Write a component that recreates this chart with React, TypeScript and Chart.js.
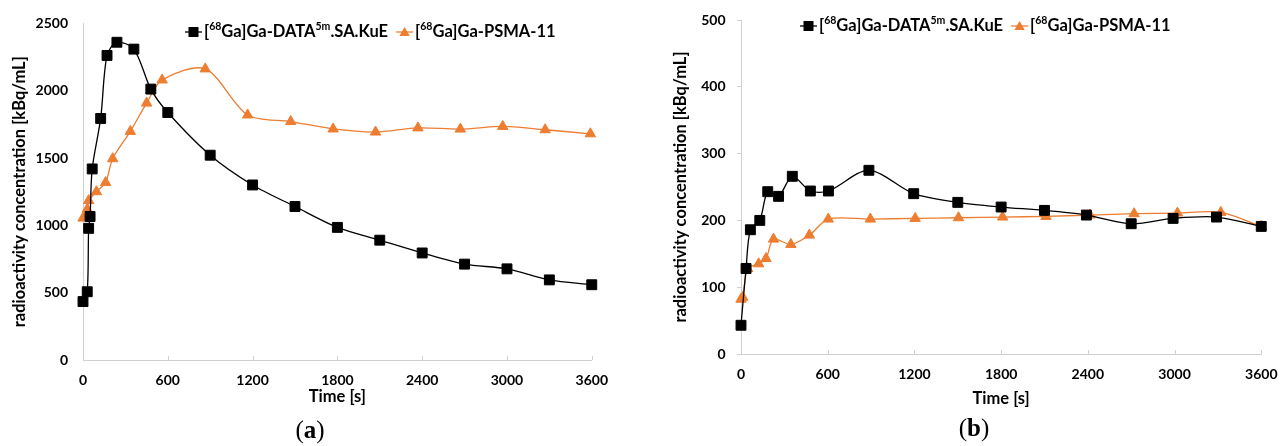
import React, { useEffect, useRef } from "react";
import { Chart, registerables } from "chart.js";
Chart.register(...registerables);

const BLACK = "#000000";
const ORANGE = "#ED7D31";
const AXIS = "#d0d0d0";
const FONT = "Lato, 'Noto Sans', sans-serif";

// Panel (a)
const timeA_DATA = [0, 30, 40, 50, 65, 125, 170, 240, 360, 480, 600, 900, 1200, 1500, 1800, 2100, 2400, 2700, 3000, 3300, 3600];
const concA_DATA = [434, 507, 978, 1066, 1419, 1794, 2262, 2360, 2309, 2012, 1838, 1521, 1300, 1140, 985, 890, 795, 712, 677, 595, 559];
const timeA_PSMA = [0, 30, 40, 95, 160, 210, 335, 450, 560, 865, 1165, 1470, 1770, 2070, 2370, 2670, 2970, 3270, 3590];
const concA_PSMA = [1054, 1120, 1184, 1250, 1318, 1495, 1698, 1908, 2080, 2162, 1820, 1771, 1716, 1693, 1724, 1715, 1735, 1710, 1680];

// Panel (b)
const timeB_DATA = [0, 35, 65, 130, 185, 260, 355, 480, 605, 885, 1195, 1500, 1800, 2100, 2390, 2700, 2990, 3290, 3600];
const concB_DATA = [43, 128, 186, 200, 243, 236, 266, 244, 244, 275, 240, 227, 220, 215, 208, 195, 203, 205, 191];
const timeB_PSMA = [0, 12, 46, 122, 173, 225, 345, 473, 604, 895, 1205, 1505, 1810, 2110, 2415, 2720, 3020, 3320, 3600];
const concB_PSMA = [82, 85, 128, 135, 143, 172, 164, 178, 202, 202, 203, 204, 205, 206, 208, 210, 211, 212, 191];

const xTickValues = [0, 600, 1200, 1800, 2400, 3000, 3600];
const yTicksA = [0, 500, 1000, 1500, 2000, 2500];
const yTicksB = [0, 100, 200, 300, 400, 500];

const xTitle = "Time [s]";
const yTitle = "radioactivity concentration [kBq/mL]";
// label segments: [text, isSuperscript]
const labelDATA: [string, boolean][] = [["[", false], ["68", true], ["Ga]Ga-DATA", false], ["5m", true], [".SA.KuE", false]];
const labelPSMA: [string, boolean][] = [["[", false], ["68", true], ["Ga]Ga-PSMA-11", false]];

const H = 446;
const TICK_SIZE = 14;
const TITLE_SIZE = 16.5;
const LEGEND_SIZE = 16.5;
const SUP_SIZE = 10.5;

function toPoints(xs: number[], ys: number[]) {
  return xs.map((x, i) => ({ x, y: ys[i] }));
}

const legendPlugin = {
  id: "excelLegend",
  afterDraw(chart: any, _args: any, opts: any) {
    const ctx = chart.ctx;
    let x = opts.x;
    const y = opts.y;
    for (const item of opts.items) {
      ctx.save();
      ctx.strokeStyle = item.color;
      ctx.fillStyle = item.color;
      ctx.lineWidth = 1.3;
      ctx.beginPath();
      ctx.moveTo(x, y);
      ctx.lineTo(x + 17, y);
      ctx.stroke();
      const mx = x + 8.5;
      ctx.beginPath();
      if (item.marker === "rect") {
        ctx.rect(mx - 5, y - 5, 10, 10);
      } else {
        const r = 6;
        ctx.moveTo(mx, y - r + 1);
        ctx.lineTo(mx + 0.866 * r, y + r / 2 + 1);
        ctx.lineTo(mx - 0.866 * r, y + r / 2 + 1);
        ctx.closePath();
      }
      ctx.fill();
      let tx = x + 19;
      ctx.fillStyle = "#000";
      ctx.textBaseline = "middle";
      ctx.textAlign = "left";
      for (const [txt, sup] of item.segments) {
        ctx.font = sup ? `bold ${SUP_SIZE}px ${FONT}` : `bold ${LEGEND_SIZE}px ${FONT}`;
        ctx.fillText(txt, tx, sup ? y - 5 : y);
        tx += ctx.measureText(txt).width;
      }
      ctx.restore();
      x = tx + 8;
    }
  },
};

const innerTicksPlugin = {
  id: "innerTicks",
  beforeDatasetsDraw(chart: any) {
    const ctx = chart.ctx;
    const xs = chart.scales.x;
    const bottom = chart.chartArea.bottom;
    ctx.save();
    ctx.strokeStyle = AXIS;
    ctx.lineWidth = 1;
    for (const v of xTickValues) {
      if (v === 0) continue;
      const px = Math.round(xs.getPixelForValue(v)) + 0.5;
      ctx.beginPath();
      ctx.moveTo(px, bottom);
      ctx.lineTo(px, bottom - 4);
      ctx.stroke();
    }
    ctx.restore();
  },
};

interface PanelCfg {
  canvasLeft: number;
  canvasWidth: number;
  area: { left: number; right: number; top: number; bottom: number };
  yMax: number;
  yTicks: number[];
  yTitleCenter: number;
  yTickLen: number;
  yPad: number;
  xLabelPad: number;
  xTitleCenter: number;
  legendX: number;
  legendY: number;
  data: { xs: number[]; ys: number[]; color: string; marker: string; radius: number; label: [string, boolean][] }[];
}

const tickFont = { family: FONT, size: TICK_SIZE, weight: "bold" as const };
const titleFont = { family: FONT, size: TITLE_SIZE, weight: "bold" as const };

function buildConfig(cfg: PanelCfg): any {
  const lh = TITLE_SIZE * 1.2;
  const xAxisH = cfg.xTitleCenter + lh / 2 - cfg.area.bottom;
  const yWidth = cfg.area.left - cfg.canvasLeft;
  return {
    type: "line",
    data: {
      datasets: cfg.data.map((d) => ({
        data: toPoints(d.xs, d.ys),
        borderColor: d.color,
        backgroundColor: d.color,
        pointBackgroundColor: d.color,
        pointBorderColor: d.color,
        pointStyle: d.marker,
        pointRadius: d.radius,
        pointBorderWidth: 1,
        borderWidth: 1.3,
        tension: 0.3,
        clip: false,
        fill: false,
      })),
    },
    options: {
      animation: false,
      responsive: false,
      devicePixelRatio: 1,
      layout: {
        padding: {
          left: 0,
          top: cfg.area.top,
          right: cfg.canvasLeft + cfg.canvasWidth - cfg.area.right,
          bottom: H - cfg.area.bottom - xAxisH,
        },
      },
      scales: {
        x: {
          type: "linear",
          min: 0,
          max: 3600,
          afterBuildTicks: (s: any) => {
            s.ticks = xTickValues.map((v) => ({ value: v }));
          },
          afterFit: (s: any) => {
            s.height = xAxisH;
          },
          ticks: {
            callback: (v: any) => String(v),
            font: tickFont,
            color: "#000",
            padding: cfg.xLabelPad,
            maxRotation: 0,
            autoSkip: false,
          },
          grid: { display: true, drawOnChartArea: false, drawTicks: false, color: AXIS },
          border: { display: true, color: AXIS, width: 1 },
          title: { display: true, text: xTitle, font: titleFont, color: "#000", padding: { top: 0, bottom: 0 } },
        },
        y: {
          min: 0,
          max: cfg.yMax,
          afterBuildTicks: (s: any) => {
            s.ticks = cfg.yTicks.map((v) => ({ value: v }));
          },
          afterFit: (s: any) => {
            s.width = yWidth;
          },
          ticks: {
            callback: (v: any) => String(v),
            font: tickFont,
            color: "#000",
            padding: cfg.yPad,
          },
          grid: {
            display: true,
            drawOnChartArea: false,
            drawTicks: cfg.yTickLen > 0,
            tickLength: cfg.yTickLen,
            color: AXIS,
          },
          border: { display: true, color: AXIS, width: 1 },
          title: {
            display: true,
            text: yTitle,
            font: titleFont,
            color: "#000",
            padding: { top: cfg.yTitleCenter - cfg.canvasLeft - lh / 2, bottom: 0 },
          },
        },
      },
      plugins: {
        legend: { display: false },
        tooltip: { enabled: false },
        excelLegend: {
          x: cfg.legendX,
          y: cfg.legendY,
          items: cfg.data.map((d) => ({ color: d.color, marker: d.marker, segments: d.label })),
        },
      },
    },
    plugins: [innerTicksPlugin, legendPlugin],
  };
}

const panelA: PanelCfg = {
  canvasLeft: 0,
  canvasWidth: 620,
  area: { left: 83, right: 595, top: 20, bottom: 360 },
  yMax: 2500,
  yTicks: yTicksA,
  yTitleCenter: 20,
  yTickLen: 0,
  yPad: 15,
  xLabelPad: 12,
  xTitleCenter: 397,
  legendX: 185,
  legendY: 32,
  data: [
    { xs: timeA_DATA, ys: concA_DATA, color: BLACK, marker: "rect", radius: 7, label: labelDATA },
    { xs: timeA_PSMA, ys: concA_PSMA, color: ORANGE, marker: "triangle", radius: 6, label: labelPSMA },
  ],
};

const panelB: PanelCfg = {
  canvasLeft: 640,
  canvasWidth: 650,
  area: { left: 741, right: 1267, top: 20, bottom: 354 },
  yMax: 500,
  yTicks: yTicksB,
  yTitleCenter: 681,
  yTickLen: 4,
  yPad: 11.5,
  xLabelPad: 12.5,
  xTitleCenter: 399,
  legendX: 160,
  legendY: 26,
  data: [
    { xs: timeB_DATA, ys: concB_DATA, color: BLACK, marker: "rect", radius: 7, label: labelDATA },
    { xs: timeB_PSMA, ys: concB_PSMA, color: ORANGE, marker: "triangle", radius: 6, label: labelPSMA },
  ],
};

function Panel({ cfg }: { cfg: PanelCfg }) {
  const ref = useRef<HTMLCanvasElement>(null);
  useEffect(() => {
    const chart = new Chart(ref.current as HTMLCanvasElement, buildConfig(cfg));
    return () => chart.destroy();
  }, [cfg]);
  return (
    <canvas
      ref={ref}
      width={cfg.canvasWidth}
      height={H}
      style={{ position: "absolute", left: cfg.canvasLeft, top: 0, width: cfg.canvasWidth, height: H }}
    />
  );
}

function Caption({ letter, cx, top }: { letter: string; cx: number; top: number }) {
  return (
    <div
      style={{
        position: "absolute",
        left: cx - 50,
        top,
        width: 100,
        textAlign: "center",
        fontFamily: "'Liberation Serif', 'DejaVu Serif', serif",
        fontSize: 25,
        lineHeight: "28px",
        color: "#000",
      }}
    >
      (<b>{letter}</b>)
    </div>
  );
}

export default function App() {
  return (
    <div
      style={{
        position: "fixed",
        left: 0,
        top: 0,
        width: 1282,
        height: H,
        overflow: "hidden",
        background: "#fff",
      }}
    >
      <Panel cfg={panelA} />
      <Panel cfg={panelB} />
      <Caption letter="a" cx={310} top={416} />
      <Caption letter="b" cx={974} top={414} />
    </div>
  );
}
